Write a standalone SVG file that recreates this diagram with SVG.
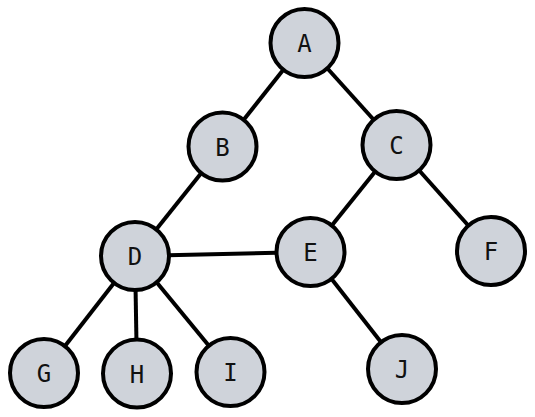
<svg xmlns="http://www.w3.org/2000/svg" width="535" height="417" viewBox="0 0 535 417">
<style>
.edge{stroke:#000;stroke-width:4;fill:none}
.node circle{fill:#cfd3da;stroke:#000;stroke-width:4}
.node text{font-family:"DejaVu Sans Mono",monospace;font-size:24px;fill:#111;text-anchor:middle;dominant-baseline:central}
</style>
<rect width="535" height="417" fill="#fff"/>
<g id="connectors">
<line class="edge" x1="304.5" y1="43" x2="222.5" y2="146.5"/>
<line class="edge" x1="304.5" y1="43" x2="396.5" y2="145"/>
<line class="edge" x1="222.5" y1="146.5" x2="135" y2="256"/>
<line class="edge" x1="396.5" y1="145" x2="310.5" y2="252"/>
<line class="edge" x1="396.5" y1="145" x2="491" y2="251"/>
<line class="edge" x1="135" y1="256" x2="310.5" y2="252"/>
<line class="edge" x1="135" y1="256" x2="44" y2="373"/>
<line class="edge" x1="135" y1="256" x2="137" y2="373.5"/>
<line class="edge" x1="135" y1="256" x2="230.5" y2="372"/>
<line class="edge" x1="310.5" y1="252" x2="402" y2="369"/>
</g>
<g id="A" class="node"><circle cx="304.5" cy="43" r="34"/><text x="304.5" y="44">A</text></g>
<g id="B" class="node"><circle cx="222.5" cy="146.5" r="34"/><text x="222.5" y="147.5">B</text></g>
<g id="C" class="node"><circle cx="396.5" cy="145" r="34"/><text x="396.5" y="146">C</text></g>
<g id="D" class="node"><circle cx="135" cy="256" r="34"/><text x="135" y="257">D</text></g>
<g id="E" class="node"><circle cx="310.5" cy="252" r="34"/><text x="310.5" y="253">E</text></g>
<g id="F" class="node"><circle cx="491" cy="251" r="34"/><text x="491" y="252">F</text></g>
<g id="G" class="node"><circle cx="44" cy="373" r="34"/><text x="44" y="374">G</text></g>
<g id="H" class="node"><circle cx="137" cy="373.5" r="34"/><text x="137" y="374.5">H</text></g>
<g id="I" class="node"><circle cx="230.5" cy="372" r="34"/><text x="230.5" y="373">I</text></g>
<g id="J" class="node"><circle cx="402" cy="369" r="34"/><text x="402" y="370">J</text></g>
</svg>
